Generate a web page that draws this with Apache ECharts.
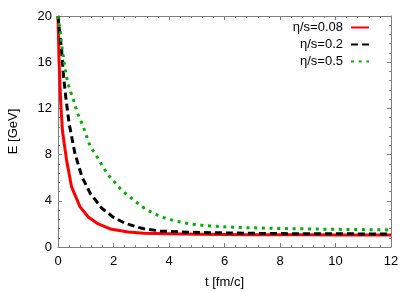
<!DOCTYPE html>
<html>
<head>
<meta charset="utf-8">
<script src="https://cdn.jsdelivr.net/npm/echarts@6/dist/echarts.min.js"></script>
<style>html,body{margin:0;padding:0;background:#fff}#c{width:415px;height:291px}</style>
</head>
<body>
<div id="c"></div>
<script>
// ---- data ----
var seriesNames = ['η/s=0.08', 'η/s=0.2', 'η/s=0.5'];
var tRed = [0, 0.036, 0.1, 0.16, 0.19, 0.31, 0.49, 0.79, 1.09, 1.45, 1.93, 2.54, 3.08, 4, 5, 6, 7, 8, 9, 10, 11, 12];
var eRed = [20, 16.2, 12.4, 10.1, 9.55, 7.5, 5.2, 3.5, 2.6, 2.0, 1.53, 1.3, 1.19, 1.15, 1.1, 1.08, 1.06, 1.05, 1.05, 1.04, 1.04, 1.03];
var tBlack = [0, 0.05, 0.13, 0.19, 0.28, 0.40, 0.61, 0.86, 1.16, 1.58, 2.0, 2.42, 2.9, 3.1, 3.68, 4.77, 6.8, 8, 10, 12];
var eBlack = [20, 18.8, 17.05, 15.0, 13.0, 10.7, 8.1, 6.1, 4.65, 3.35, 2.57, 2.05, 1.7, 1.58, 1.39, 1.27, 1.19, 1.16, 1.14, 1.13];
var tGreen = [0, 0.05, 0.11, 0.17, 0.25, 0.35, 0.46, 0.55, 0.70, 0.88, 0.97, 1.16, 1.34, 1.58, 1.82, 2.06, 2.30, 2.66, 3.02, 3.26, 3.5, 3.74, 3.98, 4.25, 4.5, 4.77, 5.03, 5.31, 5.6, 6.15, 6.69, 8, 10, 12];
var eGreen = [20, 19.2, 17.9, 16.8, 15.5, 14.2, 13.4, 12.8, 11.6, 10.6, 10.0, 8.7, 8.1, 7.1, 6.2, 5.57, 4.9, 4.2, 3.5, 3.15, 2.85, 2.6, 2.4, 2.25, 2.12, 2.0, 1.92, 1.85, 1.8, 1.73, 1.68, 1.6, 1.53, 1.48];
var xTicks = [0, 2, 4, 6, 8, 10, 12];
var yTicks = [0, 4, 8, 12, 16, 20];

function pairs(t, e) { return t.map(function (v, i) { return [v, e[i]]; }); }

var FONT = 'Liberation Sans';
var axisGray = '#7f7f7f';
function mkX(pos, showLabel, name) {
  return {
    type: 'value', position: pos, min: xTicks[0], max: xTicks[xTicks.length - 1], interval: 2,
    name: name || '', nameLocation: 'middle', nameGap: 29,
    nameTextStyle: { fontFamily: FONT, fontSize: 13, color: '#000' },
    axisLine: { show: true, onZero: false, lineStyle: { color: axisGray, width: 1 } },
    axisTick: { show: true, inside: true, length: 4, lineStyle: { color: axisGray } },
    minorTick: { show: true, splitNumber: 5, length: 2, lineStyle: { color: axisGray } },
    axisLabel: { show: showLabel, fontFamily: FONT, fontSize: 13, color: '#000', margin: 8 },
    splitLine: { show: false }
  };
}
function mkY(pos, showLabel, name) {
  return {
    type: 'value', position: pos, min: yTicks[0], max: yTicks[yTicks.length - 1], interval: 4,
    name: name || '', nameLocation: 'middle', nameGap: 38, nameRotate: 90,
    nameTextStyle: { fontFamily: FONT, fontSize: 13, color: '#000' },
    axisLine: { show: true, onZero: false, lineStyle: { color: axisGray, width: 1 } },
    axisTick: { show: true, inside: true, length: 4, lineStyle: { color: axisGray } },
    minorTick: { show: true, splitNumber: 5, length: 2, lineStyle: { color: axisGray } },
    axisLabel: { show: showLabel, fontFamily: FONT, fontSize: 13, color: '#000', margin: 6 },
    splitLine: { show: false }
  };
}

var chart = echarts.init(document.getElementById('c'), null, { renderer: 'canvas' });
chart.setOption({
  animation: false,
  backgroundColor: '#fff',
  grid: { left: 58, right: 24, top: 16, bottom: 44, containLabel: false, outerBoundsMode: 'none' },
  xAxis: [mkX('bottom', true, 't [fm/c]'), mkX('top', false)],
  yAxis: [mkY('left', true, 'E [GeV]'), mkY('right', false)],
  legend: {
    orient: 'vertical', right: 40, top: 16, align: 'right',
    itemWidth: 18, itemHeight: 12, itemGap: 4,
    itemStyle: { color: 'rgba(0,0,0,0)', borderWidth: 0, opacity: 0 },
    textStyle: { fontFamily: FONT, fontSize: 13, color: '#000', padding: [0, 3, 0, 0] },
    data: seriesNames
  },
  series: [
    { name: seriesNames[0], type: 'line', xAxisIndex: 0, yAxisIndex: 0, symbol: 'none',
      data: pairs(tRed, eRed), lineStyle: { color: '#ff0000', width: 3, type: 'solid', join: 'round' }, itemStyle: { color: '#ff0000' } },
    { name: seriesNames[1], type: 'line', xAxisIndex: 0, yAxisIndex: 0, symbol: 'none',
      data: pairs(tBlack, eBlack), lineStyle: { color: '#000000', width: 3, type: [7, 4], cap: 'butt' }, itemStyle: { color: '#000000' } },
    { name: seriesNames[2], type: 'line', xAxisIndex: 0, yAxisIndex: 0, symbol: 'none',
      data: pairs(tGreen, eGreen), lineStyle: { color: '#00b000', width: 3, type: [3, 4.7], cap: 'butt' }, itemStyle: { color: '#00b000' } }
  ]
});
</script>
</body>
</html>
